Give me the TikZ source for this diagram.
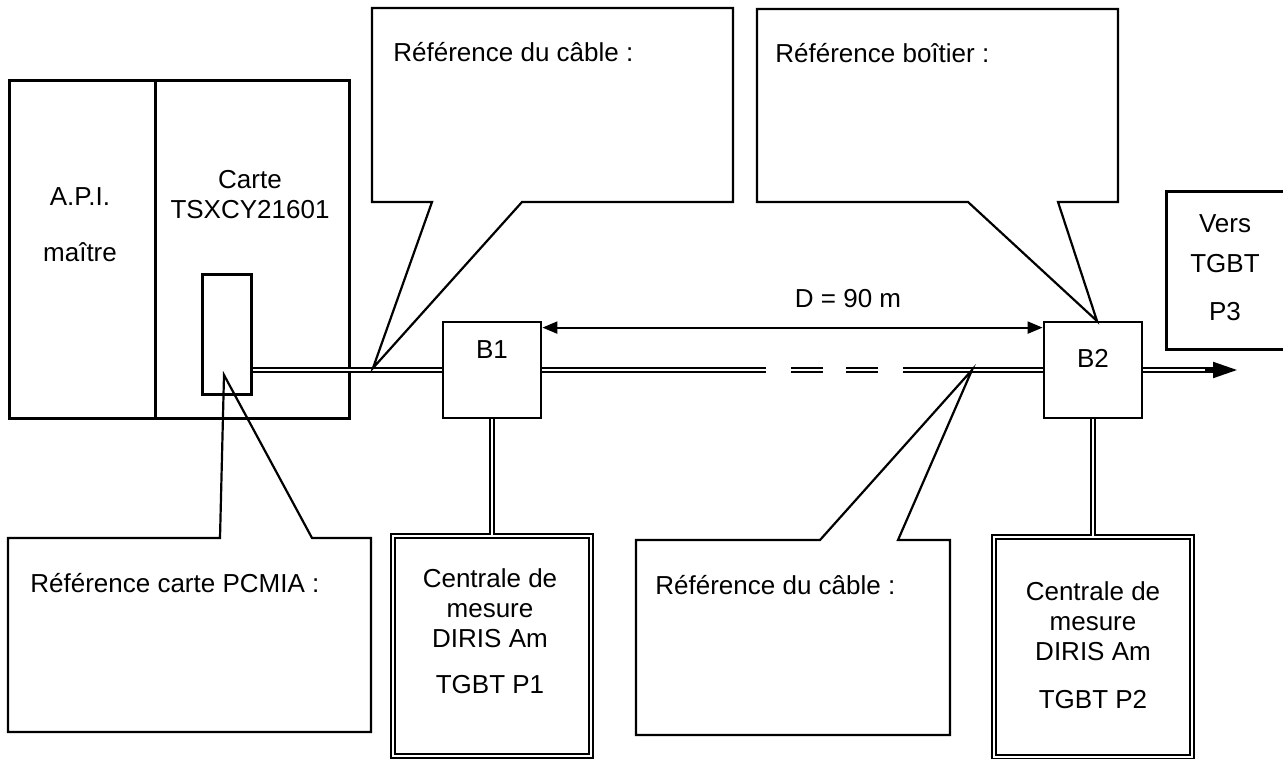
\documentclass[tikz,border=0pt]{standalone}
\usepackage{fontspec}
\setmainfont{Liberation Sans}
\usetikzlibrary{positioning,arrows.meta}

\begin{document}
\begin{tikzpicture}[x=0.5pt, y=-0.5pt,
	boite/.style={draw, line width=1.4pt, inner sep=0pt},
	cadre/.style={draw, double, line width=1pt, double distance=1.3pt, inner sep=0pt, minimum width=99pt, minimum height=110pt},
	cable/.style={double, line width=1pt, double distance=0.9pt},
	bulle/.style={draw, line width=1.1pt, line join=miter},
	texte/.style={font=\fontsize{13}{15}\selectfont, inner sep=0pt, align=center},
	cote/.style={line width=1pt, {Triangle[length=7.5pt,width=6pt]}-{Triangle[length=7.5pt,width=6pt]}}]
	\clip (0,0) rectangle (1283,759);
	\node[boite, anchor=north west, minimum width=73pt, minimum height=169pt] (api) at (8,79) {};
	\node[boite, anchor=north west, minimum width=97pt, minimum height=169pt] (carte) at (154,79) {};
	\node[boite, anchor=north west, minimum width=24.5pt, minimum height=60pt] (slot) at (201,273) {};
	\node[boite, minimum width=49pt, minimum height=48pt] (b1) at (492,370) {};
	\node[boite, minimum width=49pt, minimum height=48pt] (b2) at (1093,370) {};
	\node[cadre] (diris1) at (492,646) {};
	\node[cadre] (diris2) at (1093,647) {};
	\node[boite, anchor=north west, minimum width=70pt, minimum height=79pt] (vers) at (1165,190) {};
	\node[texte] (apiTxt) at (80,225) {A.P.I.\\[13pt]maître};
	\node[texte] (carteTxt) at (250,195) {Carte\\TSXCY21601};
	\node[texte] (b1Txt) at (492,350) {B1};
	\node[texte] (b2Txt) at (1093,358) {B2};
	\node[texte] (diris1Txt) at (490,631) {Centrale de\\mesure\\DIRIS Am\\[8pt]TGBT P1};
	\node[texte] (diris2Txt) at (1093,645) {Centrale de\\mesure\\DIRIS Am\\[9pt]TGBT P2};
	\node[texte] (versTxt) at (1225,268) {Vers\\[5pt]TGBT\\[9pt]P3};
	\node[texte] (distance) at (848,299) {D = 90 m};
	\draw[cable] (slot.east |- b1.west) -- (b1.west);
	\draw[cable, dash pattern=on 112pt off 12.5pt on 16pt off 11.5pt on 16pt off 12.5pt on 200pt] (b1.east) -- (b2.west);
	\coordinate (sortie) at (1214,370);
	\coordinate (pointe) at (1237,370);
	\draw[cable] (b2.east) -- (sortie);
	\draw[line width=1pt, -{Triangle[length=12pt,width=8pt]}] (1205,370) -- (pointe);
	\draw[cable] (b1.south) -- (diris1.north);
	\draw[cable] (b2.south) -- (diris2.north);
	\draw[cote] ([yshift=-3.5pt]b1.north east) -- ([yshift=-3.5pt]b2.north west);
	\coordinate (tipCable1) at (373,368);
	\coordinate (tipBoitier) at (1097,321);
	\coordinate (tipPcmia) at (224,375);
	\coordinate (tipCable2) at (972,370);
	\draw[bulle] (372,202) -- (432,202) -- (tipCable1) -- (522,202) -- (733,202) -- (733,8) -- (372,8) -- cycle;
	\draw[bulle] (757,202) -- (968,202) -- (tipBoitier) -- (1058,202) -- (1118,202) -- (1118,9) -- (757,9) -- cycle;
	\draw[bulle] (8,538) -- (220,538) -- (tipPcmia) -- (312,538) -- (371,538) -- (371,732) -- (8,732) -- cycle;
	\draw[bulle] (636,540) -- (820,540) -- (tipCable2) -- (898,540) -- (950,540) -- (950,735) -- (636,735) -- cycle;
	\node[texte, anchor=west] (refCable1) at (393,52) {Référence du câble :};
	\node[texte, anchor=west] (refBoitier) at (775,53) {Référence boîtier :};
	\node[texte, anchor=west] (refPcmia) at (30,583) {Référence carte PCMIA :};
	\node[texte, anchor=west] (refCable2) at (655,585) {Référence du câble :};
\end{tikzpicture}
\end{document}
